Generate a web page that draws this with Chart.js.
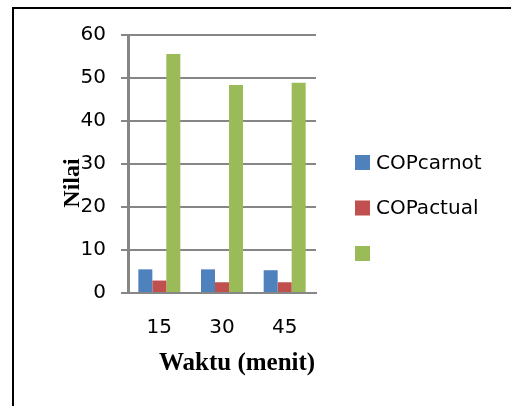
<!DOCTYPE html>
<html>
<head>
<meta charset="utf-8">
<script src="https://cdn.jsdelivr.net/npm/chart.js@4"></script>
<style>
  html, body { margin: 0; padding: 0; background: #fff; overflow: hidden; }
  #frame { position: absolute; left: 12px; top: 7px; width: 520px; height: 420px;
           border-top: 2px solid #000; border-left: 2px solid #000; }
  #wrap { position: absolute; left: 0; top: 0; width: 511px; height: 406px; }
</style>
</head>
<body>
<div id="frame"></div>
<div id="wrap"><canvas id="c" width="511" height="406"></canvas></div>
<script>
const categories = ['15', '30', '45'];
const copCarnot = [5.5, 5.5, 5.3];
const copActual = [2.9, 2.5, 2.5];
const thirdSeries = [55.6, 48.4, 48.9];
const seriesNames = ['COPcarnot', 'COPactual', ''];
const seriesColors = ['#4F81BD', '#C0504D', '#9BBB59'];
const yTicks = [0, 10, 20, 30, 40, 50, 60];
const xTitle = 'Waktu (menit)';
const yTitle = 'Nilai';

// Axis titles and legend drawn next to the plot area
const extras = {
  id: 'extras',
  afterDraw(chart) {
    const ctx = chart.ctx;
    const a = chart.chartArea;
    ctx.save();
    ctx.fillStyle = '#000';
    ctx.font = 'bold 25px "Liberation Serif", "Times New Roman", serif';
    ctx.textAlign = 'center';
    ctx.textBaseline = 'alphabetic';
    ctx.fillText(xTitle, a.left + 109, a.bottom + 77);
    ctx.save();
    ctx.translate(a.left - 49, a.top + 148);
    ctx.rotate(-Math.PI / 2);
    ctx.font = 'bold 24px "Liberation Serif", "Times New Roman", serif';
    ctx.fillText(yTitle, 0, 0);
    ctx.restore();

    // legend
    ctx.font = '20px "DejaVu Sans", sans-serif';
    ctx.textAlign = 'left';
    ctx.textBaseline = 'middle';
    const lx = a.right + 39;
    chart.data.datasets.forEach((ds, i) => {
      const ty = a.top + 120 + i * 45.5;
      ctx.fillStyle = ds.backgroundColor;
      ctx.fillRect(lx, ty, 15, 15);
      ctx.fillStyle = '#000';
      ctx.fillText(ds.label, lx + 21, ty + 8.5);
    });
    ctx.restore();
  }
};

const gray = '#868686';
new Chart(document.getElementById('c'), {
  type: 'bar',
  data: {
    labels: categories,
    datasets: [
      { label: seriesNames[0], data: copCarnot, backgroundColor: seriesColors[0] },
      { label: seriesNames[1], data: copActual, backgroundColor: seriesColors[1] },
      { label: seriesNames[2], data: thirdSeries, backgroundColor: seriesColors[2] }
    ]
  },
  options: {
    responsive: false,
    animation: false,
    devicePixelRatio: 1,
    categoryPercentage: 0.67,
    barPercentage: 1.0,
    layout: { padding: { left: 0, top: 35, right: 195, bottom: 26 } },
    plugins: {
      tooltip: { enabled: false },
      legend: { display: false }
    },
    scales: {
      x: {
        grid: { display: false },
        border: { display: true, color: gray, width: 2 },
        ticks: { color: '#000', padding: 15, font: { family: '"DejaVu Sans", sans-serif', size: 20 } },
        afterFit(s) { s.height = 406 - 26 - 293; }
      },
      y: {
        min: 0, max: 60,
        afterBuildTicks(s) { s.ticks = yTicks.map(v => ({ value: v })); },
        grid: { color: gray, lineWidth: 2, tickLength: 7, drawTicks: true },
        border: { display: true, color: gray, width: 3 },
        ticks: { color: '#000', padding: 15, font: { family: '"DejaVu Sans", sans-serif', size: 20 } },
        afterFit(s) { s.width = 128; }
      }
    }
  },
  plugins: [extras]
});
</script>
</body>
</html>
